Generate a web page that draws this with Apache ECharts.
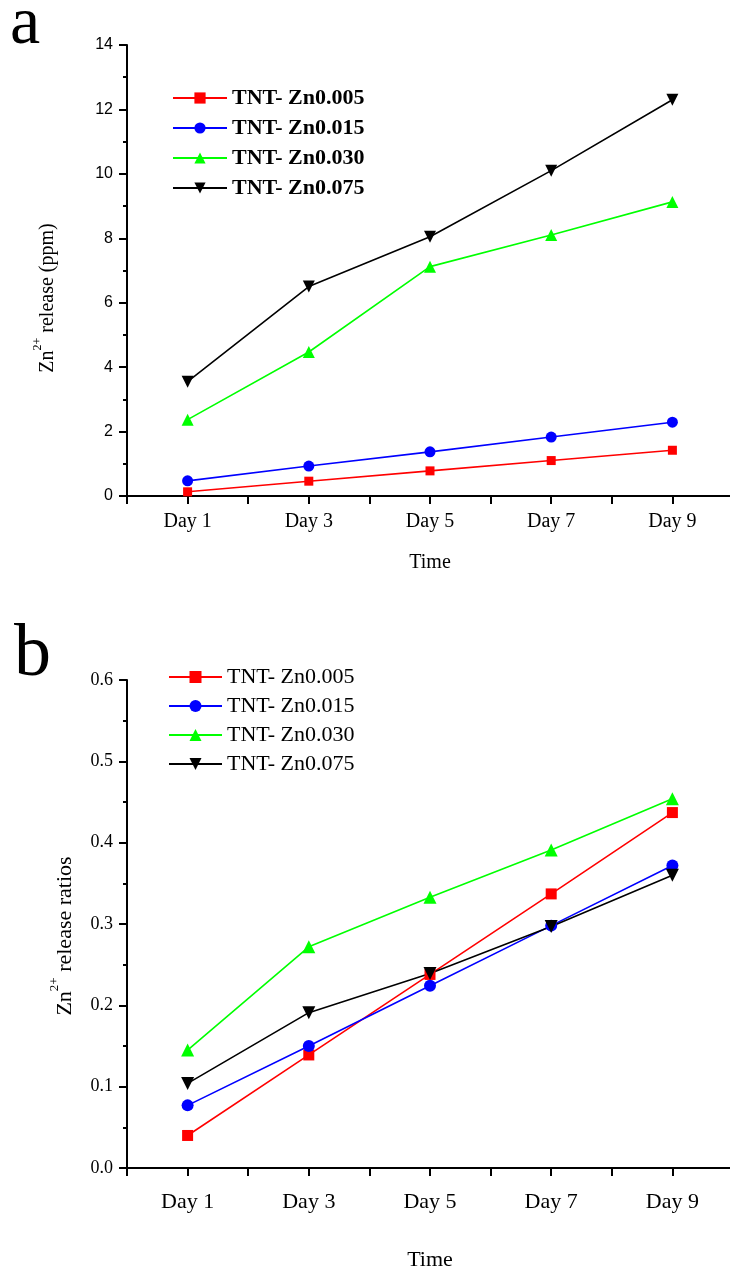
<!DOCTYPE html>
<html>
<head>
<meta charset="utf-8">
<title>Zn2+ release</title>
<script src="https://cdn.jsdelivr.net/npm/echarts@6/dist/echarts.min.js"></script>
<style>
html, body { margin: 0; padding: 0; background: #fff; }
#main { width: 730px; height: 1275px; }
</style>
</head>
<body>
<div id="main"></div>
<script>
var days = ['Day 1', 'Day 3', 'Day 5', 'Day 7', 'Day 9'];
var dayNum = [1, 3, 5, 7, 9];
var names = ['TNT- Zn0.005', 'TNT- Zn0.015', 'TNT- Zn0.030', 'TNT- Zn0.075'];

// panel a : Zn2+ release (ppm)
var ppm005 = [0.13, 0.46, 0.78, 1.10, 1.42];
var ppm015 = [0.47, 0.93, 1.37, 1.83, 2.29];
var ppm030 = [2.37, 4.47, 7.12, 8.10, 9.13];
var ppm075 = [3.55, 6.50, 8.05, 10.10, 12.30];

// panel b : Zn2+ release ratios
var ratio005 = [0.040, 0.139, 0.238, 0.337, 0.437];
var ratio015 = [0.077, 0.150, 0.224, 0.298, 0.372];
var ratio030 = [0.145, 0.272, 0.333, 0.391, 0.454];
var ratio075 = [0.104, 0.191, 0.239, 0.297, 0.360];

var colors = ['#ff0000', '#0000ff', '#00ff00', '#000000'];
var symbols = ['rect', 'circle', 'triangle', 'path://M0,0L10,0L5,9Z'];
var sizesA = [9, 11, 12, 12];
var sizesB = [11, 12, 13, 13];

var serif = "'Liberation Serif', 'Times New Roman', serif";
var sans = "'Liberation Sans', Arial, sans-serif";

function pts(vals) {
    return vals.map(function (v, i) { return [dayNum[i], v]; });
}

function dayLabel(v) {
    var i = dayNum.indexOf(v);
    return i >= 0 ? days[i] : '';
}

function xAxis(idx, margin, gap, fs) {
    return {
        type: 'value', gridIndex: idx, min: 0, max: 10, interval: 1,
        name: 'Time', nameLocation: 'middle', nameGap: gap,
        nameTextStyle: { fontFamily: serif, fontSize: fs, color: '#000' },
        axisLine: { show: true, lineStyle: { color: '#000', width: 2 } },
        axisTick: { show: true, length: 8, lineStyle: { color: '#000', width: 2 } },
        axisLabel: { formatter: dayLabel, fontFamily: serif, fontSize: fs, color: '#000', margin: margin, showMinLabel: true, showMaxLabel: true },
        splitLine: { show: false }
    };
}

function yAxis(idx, max, interval, font, fs, fmt) {
    return {
        type: 'value', gridIndex: idx, min: 0, max: max, interval: interval,
        axisLine: { show: true, lineStyle: { color: '#000', width: 2 } },
        axisTick: { show: true, length: 8, lineStyle: { color: '#000', width: 2 } },
        minorTick: { show: true, splitNumber: 2, length: 4, lineStyle: { color: '#000', width: 2 } },
        axisLabel: { fontFamily: font, fontSize: fs, color: '#000', margin: 14, formatter: fmt },
        splitLine: { show: false }
    };
}

var series = [];
var setsA = [ppm005, ppm015, ppm030, ppm075];
var setsB = [ratio005, ratio015, ratio030, ratio075];
for (var k = 0; k < 4; k++) {
    series.push({
        name: names[k], type: 'line', xAxisIndex: 0, yAxisIndex: 0,
        data: pts(setsA[k]), symbol: symbols[k], symbolSize: sizesA[k],
        itemStyle: { color: colors[k] }, lineStyle: { color: colors[k], width: 1.6 },
        animation: false
    });
}
for (var k = 0; k < 4; k++) {
    series.push({
        name: names[k], type: 'line', xAxisIndex: 1, yAxisIndex: 1,
        data: pts(setsB[k]), symbol: symbols[k], symbolSize: sizesB[k],
        itemStyle: { color: colors[k] }, lineStyle: { color: colors[k], width: 1.6 },
        animation: false
    });
}

var chart = echarts.init(document.getElementById('main'));
chart.setOption({
    backgroundColor: '#fff',
    animation: false,
    grid: [
        { left: 127, top: 45, width: 606, height: 451, outerBoundsMode: 'none', containLabel: false },
        { left: 127, top: 680, width: 606, height: 488, outerBoundsMode: 'none', containLabel: false }
    ],
    xAxis: [xAxis(0, 16, 57, 20), xAxis(1, 23, 81, 22)],
    yAxis: [
        yAxis(0, 14, 2, sans, 16, null),
        yAxis(1, 0.6, 0.1, serif, 18, function (v) { return v.toFixed(1); })
    ],
    legend: [
        {
            data: names, orient: 'vertical', left: 167, top: 82,
            itemWidth: 54, itemHeight: 14, itemGap: 8, selectedMode: false,
            textStyle: { fontFamily: serif, fontSize: 22, fontWeight: 'bold', color: '#000' }
        },
        {
            data: names, orient: 'vertical', left: 163, top: 661,
            itemWidth: 53, itemHeight: 15, itemGap: 7, selectedMode: false,
            textStyle: { fontFamily: serif, fontSize: 22, color: '#000' }
        }
    ],
    graphic: [
        { type: 'text', x: 10, y: 25, style: { text: 'a', fontFamily: serif, fontSize: 68, fill: '#000', align: 'left', verticalAlign: 'middle' } },
        { type: 'text', x: 14, y: 656, style: { text: 'b', fontFamily: serif, fontSize: 74, fill: '#000', align: 'left', verticalAlign: 'middle' } },
        {
            type: 'text', x: 45, y: 298, rotation: Math.PI / 2,
            style: {
                text: '{m|Zn}{s|2+}{m| release (ppm)}', align: 'center', verticalAlign: 'middle', fill: '#000',
                rich: {
                    m: { fontFamily: serif, fontSize: 20, lineHeight: 26, verticalAlign: 'bottom' },
                    s: { fontFamily: serif, fontSize: 12, lineHeight: 26, verticalAlign: 'top' }
                }
            }
        },
        {
            type: 'text', x: 62, y: 936, rotation: Math.PI / 2,
            style: {
                text: '{m|Zn}{s|2+}{m| release ratios}', align: 'center', verticalAlign: 'middle', fill: '#000',
                rich: {
                    m: { fontFamily: serif, fontSize: 22, lineHeight: 28, verticalAlign: 'bottom' },
                    s: { fontFamily: serif, fontSize: 13, lineHeight: 28, verticalAlign: 'top' }
                }
            }
        }
    ],
    series: series
});
</script>
</body>
</html>
